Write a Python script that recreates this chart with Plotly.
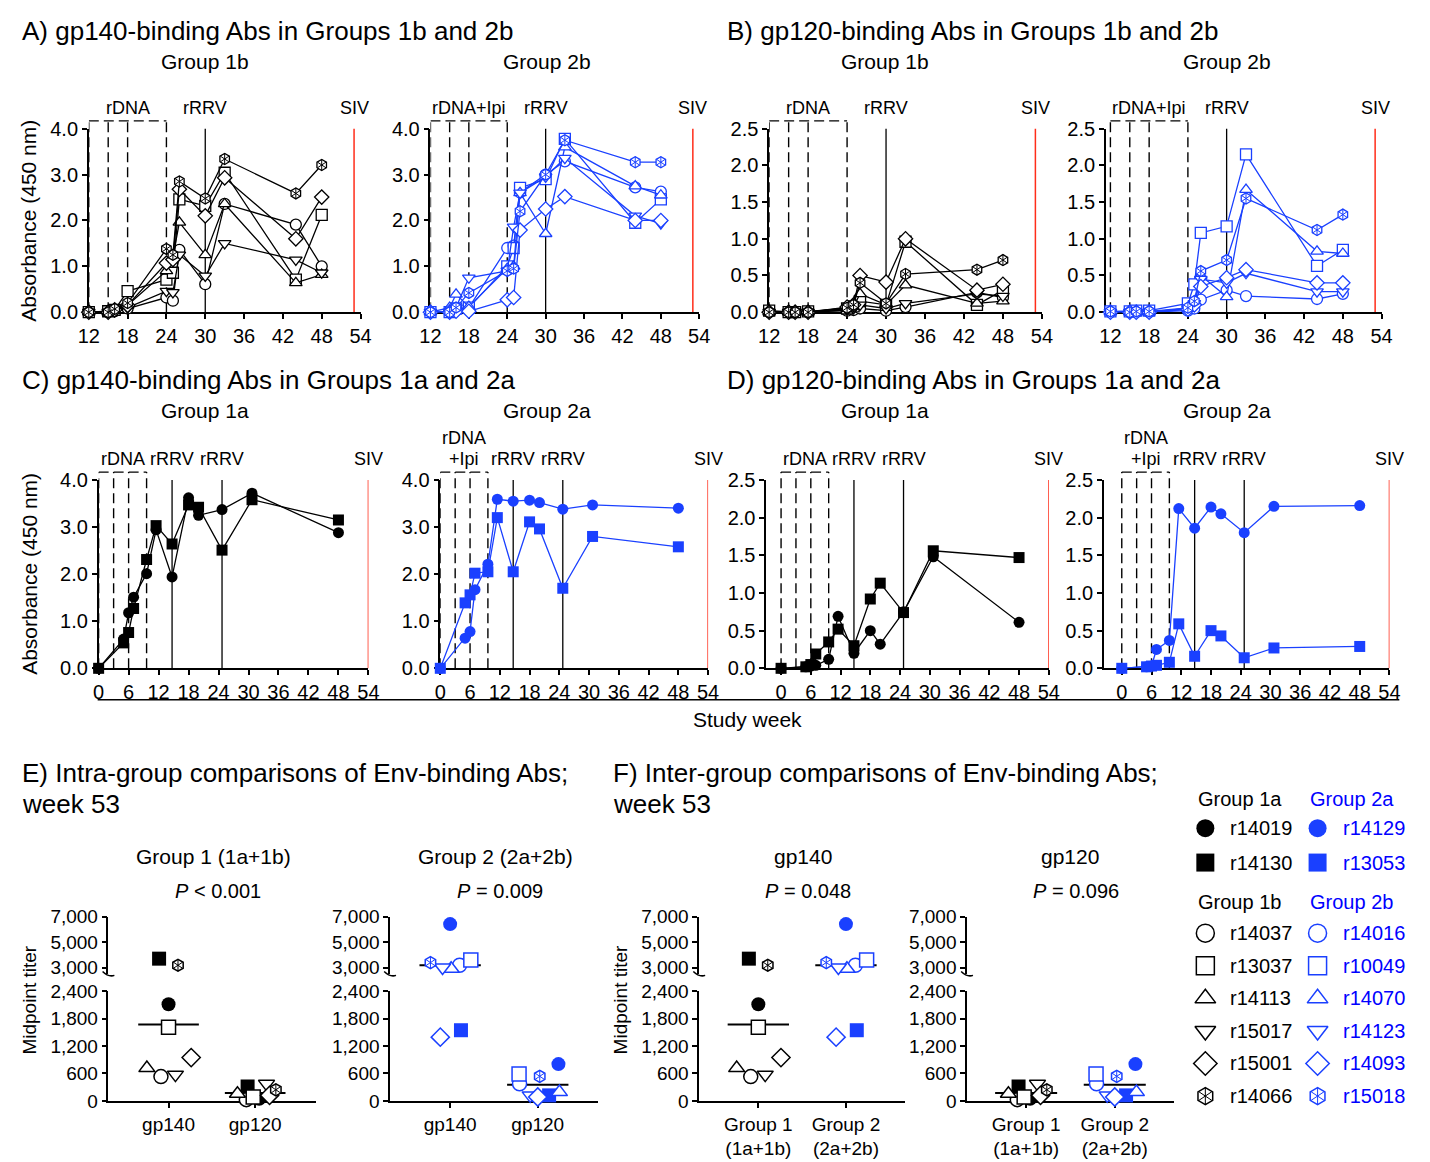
import numpy as np
import plotly.graph_objects as go

OFF = 0
PAGE_W, PAGE_H = 1430, 1162
W, H = PAGE_W - 2 * OFF, PAGE_H - 2 * OFF
FONT = "Liberation Sans, Arial, Helvetica, sans-serif"
BLUE = "#1a40ff"
BLUE_TXT = "#0000ff"
RED = "#ff2d1a"

# ---------------- data ----------------
WEEKS_B = [12, 15, 16, 18, 24, 25, 26, 30, 33, 44, 48]           # groups 1b / 2b
WEEKS_A = [0, 5, 6, 7, 9.6, 11.5, 14.7, 18, 20, 24.7, 30.7, 48]  # groups 1a / 2a
DNA_B = [12, 15, 18, 24]
RRV_B = [30]
SIV_B = 53
DNA_A = [0, 3, 6, 9.6]
RRV_A = [14.7, 24.7]
SIV_A = 54

GROUP_1A = ["r14019", "r14130"]
GROUP_2A = ["r14129", "r13053"]
GROUP_1B = ["r14037", "r13037", "r14113", "r15017", "r15001", "r14066"]
GROUP_2B = ["r14016", "r10049", "r14070", "r14123", "r14093", "r15018"]

GP140_1B = {
    "r14037": [0, 0, 0.02, 0.08, 0.32, 0.25, 1.36, 0.61, 2.36, 1.91, 1.0],
    "r13037": [0, 0.02, 0.05, 0.46, 0.71, 0.86, 2.46, 2.32, 3.04, 0.71, 2.12],
    "r14113": [0, 0, 0.03, 0.15, 0.9, 1.2, 1.96, 1.25, 2.36, 0.64, 0.82],
    "r15017": [0, 0, 0.02, 0.1, 0.46, 0.43, 1.25, 0.79, 1.5, 1.14, 0.86],
    "r15001": [0, 0, 0.05, 0.15, 1.07, 1.15, 2.68, 2.1, 2.93, 1.6, 2.51],
    "r14066": [0, 0, 0.07, 0.2, 1.38, 1.25, 2.85, 2.48, 3.34, 2.59, 3.21],
}
GP140_2B = {
    "r14016": [0, 0, 0.05, 0.1, 1.4, 1.45, 2.61, 3.0, 3.29, 2.72, 2.63],
    "r10049": [0, 0, 0.08, 0.1, 1.0, 1.4, 2.71, 2.9, 3.78, 1.95, 2.46],
    "r14070": [0, 0.1, 0.39, 0.12, 0.95, 1.0, 2.6, 1.71, 3.6, 2.75, 2.55],
    "r14123": [0, 0, 0.1, 0.75, 0.9, 1.86, 2.6, 2.95, 3.36, 2.1, 1.93],
    "r14093": [0, 0, 0.02, 0.02, 0.27, 0.32, 1.79, 2.25, 2.52, 2.0, 2.0],
    "r15018": [0, 0, 0.1, 0.42, 0.9, 0.95, 2.2, 3.0, 3.75, 3.27, 3.27],
}
GP120_1B = {
    "r14037": [0, 0, 0, 0, 0.02, 0.03, 0.05, 0.02, 0.07, 0.27, 0.2],
    "r13037": [0.02, 0, 0, 0.01, 0.05, 0.08, 0.15, 0.1, 0.96, 0.1, 0.3],
    "r14113": [0, 0, 0, 0, 0.05, 0.08, 0.25, 0.1, 0.37, 0.12, 0.15],
    "r15017": [0, 0, 0, 0, 0.03, 0.05, 0.1, 0.05, 0.12, 0.25, 0.22],
    "r15001": [0, 0, 0, 0, 0.07, 0.1, 0.5, 0.41, 1.0, 0.3, 0.38],
    "r14066": [0, 0, 0, 0, 0.06, 0.1, 0.4, 0.12, 0.52, 0.58, 0.71],
}
GP120_2B = {
    "r14016": [0, 0, 0, 0, 0.02, 0.05, 0.17, 0.3, 0.22, 0.18, 0.25],
    "r10049": [0.01, 0.01, 0.02, 0.02, 0.12, 0.38, 1.08, 1.17, 2.15, 0.63, 0.85],
    "r14070": [0, 0, 0, 0, 0.05, 0.15, 0.5, 0.21, 1.67, 0.83, 0.8],
    "r14123": [0, 0, 0, 0, 0.05, 0.12, 0.45, 0.4, 0.53, 0.28, 0.28],
    "r14093": [0, 0, 0, 0, 0.04, 0.1, 0.35, 0.47, 0.58, 0.4, 0.4],
    "r15018": [0.01, 0, 0.01, 0.01, 0.06, 0.15, 0.56, 0.71, 1.55, 1.12, 1.33],
}
GP140_1A = {
    "r14019": [0, 0.62, 1.18, 1.51, 2.01, 2.94, 1.94, 3.62, 3.25, 3.37, 3.72, 2.88],
    "r14130": [0, 0.54, 0.76, 1.27, 2.31, 3.03, 2.64, 3.47, 3.42, 2.51, 3.58, 3.15],
}
GP140_2A = {
    "r14129": [0, 0.64, 0.78, 1.67, 2.21, 3.59, 3.55, 3.57, 3.52, 3.38, 3.47, 3.4],
    "r13053": [0, 1.39, 1.56, 2.02, 2.05, 3.2, 2.05, 3.11, 2.96, 1.7, 2.8, 2.58],
}
GP120_1A = {
    "r14019": [0, 0.02, 0.03, 0.04, 0.12, 0.69, 0.2, 0.5, 0.32, 0.75, 1.48, 0.61],
    "r14130": [0, 0.02, 0.05, 0.19, 0.35, 0.52, 0.3, 0.92, 1.13, 0.74, 1.56, 1.47],
}
GP120_2A = {
    "r14129": [0, 0.02, 0.03, 0.25, 0.37, 2.12, 1.86, 2.14, 2.05, 1.8, 2.15, 2.16],
    "r13053": [0, 0.02, 0.03, 0.04, 0.08, 0.59, 0.16, 0.5, 0.43, 0.14, 0.27, 0.29],
}

# week-53 midpoint titers
TITER_GP140 = {
    "r14019": 2113, "r14130": 3697, "r14037": 532, "r13037": 1610, "r14113": 718,
    "r15017": 575, "r15001": 948, "r14066": 3180,
    "r14129": 6406, "r13053": 1545, "r14016": 3180, "r10049": 3594, "r14070": 2900,
    "r14123": 3000, "r14093": 1394, "r15018": 3387,
}
TITER_GP120 = {
    "r14019": 50, "r14130": 316, "r14037": 29, "r13037": 86, "r14113": 158,
    "r15017": 374, "r15001": 122, "r14066": 244,
    "r14129": 805, "r13053": 122, "r14016": 374, "r10049": 589, "r14070": 194,
    "r14123": 122, "r14093": 86, "r15018": 539,
}
P_VALUES = ["<i>P</i> &lt; 0.001", "<i>P</i> = 0.009", "<i>P</i> = 0.048", "<i>P</i> = 0.096"]

# ---------------- styles ----------------
SYMBOL = {}
for g in (GROUP_1A, GROUP_2A):
    SYMBOL.update(dict(zip(g, ["circle", "square"])))
for g in (GROUP_1B, GROUP_2B):
    SYMBOL.update(dict(zip(g, ["circle", "square", "triangle-up", "triangle-down", "diamond", "hexstar"])))
FILLED = set(GROUP_1A + GROUP_2A)
COLOR = {a: "black" for a in GROUP_1A + GROUP_1B}
COLOR.update({a: BLUE for a in GROUP_2A + GROUP_2B})

# horizontal jitter of the dots (pixels)
JITTER_GP140 = {"r14130": -9.6, "r14066": 9.6, "r14019": 0, "r13037": 0, "r15001": 23, "r14113": -22,
                "r14037": -7.7, "r15017": 7, "r14129": 0, "r15018": -20, "r14123": -7.7, "r14070": 1,
                "r14016": 9.6, "r10049": 21, "r14093": -10, "r13053": 11}
JITTER_GP120 = {"r14130": -7.7, "r15017": 11.5, "r14066": 21, "r14113": -18, "r14019": 4, "r14037": -9,
                "r13037": -2, "r15001": 14.6, "r14129": 21, "r10049": -19, "r15018": 2, "r14016": -18.5,
                "r14123": -7.7, "r14093": 0, "r13053": 11.5, "r14070": 22}
UPPER_MIN = 2600

AX_BASE = dict(showgrid=False, zeroline=False, showline=True, linecolor="black", linewidth=1.5,
               ticks="outside", ticklen=5, tickwidth=1.5, tickcolor="black",
               tickfont=dict(family=FONT, size=20, color="black"), fixedrange=True,
               layer="below traces")

fig = go.Figure()
layout_axes = {}
shapes = []
annotations = []
counter = {"x": 0, "y": 0}


def ref(kind, n):
    return kind if n == 1 else f"{kind}{n}"


def make_axis(kind, dom, rng, anchor, **kw):
    counter[kind] += 1
    n = counter[kind]
    name = f"{kind}axis" if n == 1 else f"{kind}axis{n}"
    d = dict(AX_BASE)
    d.update(domain=dom, range=rng, anchor=anchor, autorange=False)
    d.update(kw)
    layout_axes[name] = d
    return ref(kind, n)


def pair(xdom, ydom, xr, yr, xkw=None, ykw=None):
    xr_ = ref("x", counter["x"] + 1)
    yr_ = ref("y", counter["y"] + 1)
    make_axis("x", xdom, xr, yr_, **(xkw or {}))
    make_axis("y", ydom, yr, xr_, **(ykw or {}))
    return xr_, yr_


def pxx(a):
    return (a - OFF) / W


def pxy(b):
    return 1 - (b - OFF) / H


def xdom_px(a, b):
    return [pxx(a), pxx(b)]


def ydom_px(top, bottom):
    return [pxy(bottom), pxy(top)]


def text(t, x, y, size, color="black", xanchor="center", angle=0, xref="paper"):
    annotations.append(dict(text=t, x=(pxx(x) if xref == "paper" else x), y=pxy(y), xref=xref,
                            yref="paper", showarrow=False, xanchor=xanchor, yanchor="middle",
                            textangle=angle, font=dict(family=FONT, size=size, color=color)))


def add_marks(xa, ya, xs, ys, animal, size, mode="markers", lw=1.3):
    color = COLOR[animal]
    sym = SYMBOL[animal]
    filled = animal in FILLED
    base = "hexagon" if sym == "hexstar" else sym
    fig.add_trace(go.Scatter(
        x=xs, y=ys, xaxis=xa, yaxis=ya, mode=mode, cliponaxis=False, hoverinfo="skip",
        line=dict(color=color, width=1.3),
        marker=dict(symbol=base, size=size, color=color if filled else "white",
                    line=dict(color=color, width=0 if filled else lw))))
    if sym == "hexstar":
        n = len(xs)
        fig.add_trace(go.Scatter(
            x=list(xs) * 2, y=list(ys) * 2, xaxis=xa, yaxis=ya, mode="markers", cliponaxis=False,
            hoverinfo="skip",
            marker=dict(symbol=["y-up-open"] * n + ["y-down-open"] * n, size=size / 1.55,
                        color=color, line=dict(width=1.0))))


def course_panel(xd, yd, xr, ymax, ystep, weeks, data, dna, rrv, siv, dna_label):
    xtv = list(range(12 if xr[0] > 6 else 0, 55, 6))
    ytv = [round(v, 2) for v in np.arange(0, ymax + 1e-9, ystep)]
    xa, ya = pair(xdom_px(*xd), ydom_px(*yd), xr, [0, ymax],
                  dict(tickvals=xtv), dict(tickvals=ytv, tickformat=".1f"))
    hpx = yd[1] - yd[0]
    top = 1 + 8 / hpx
    yref = f"{ya} domain"
    dash = "10px,5px"
    for w in dna:
        shapes.append(dict(type="line", xref=xa, yref=yref, x0=w, x1=w, y0=0, y1=top,
                           line=dict(color="black", width=1.4, dash=dash), layer="below"))
    shapes.append(dict(type="line", xref=xa, yref=yref, x0=dna[0], x1=dna[-1], y0=top, y1=top,
                       line=dict(color="black", width=1.4, dash=dash), layer="below"))
    for w in rrv:
        shapes.append(dict(type="line", xref=xa, yref=yref, x0=w, x1=w, y0=0, y1=1,
                           line=dict(color="black", width=1.3), layer="below"))
        text("rRRV", w, yd[0] - 21, 18, xref=xa)
    shapes.append(dict(type="line", xref=xa, yref=yref, x0=siv, x1=siv, y0=0, y1=1,
                       line=dict(color=RED, width=1.5), layer="below"))
    text("SIV", siv, yd[0] - 21, 18, xref=xa)
    mid = (dna[0] + dna[-1]) / 2
    if len(dna_label) == 1:
        text(dna_label[0], mid, yd[0] - 21, 18, xref=xa)
    else:
        text(dna_label[0], mid, yd[0] - 43, 18, xref=xa)
        text(dna_label[1], mid, yd[0] - 21, 18, xref=xa)
    for animal, vals in data.items():
        add_marks(xa, ya, weeks, vals, animal, 11, mode="lines+markers")


# ---- panels A-D ----
YA = (120, 307)
YC = (478, 670)
course_panel((79, 355), YA, [12, 54], 4, 1, WEEKS_B, GP140_1B, DNA_B, RRV_B, SIV_B, ["rDNA"])
course_panel((426, 699), YA, [12, 54], 4, 1, WEEKS_B, GP140_2B, DNA_B, RRV_B, SIV_B, ["rDNA+Ipi"])
course_panel((770, 1047), YA, [12, 54], 2.5, 0.5, WEEKS_B, GP120_1B, DNA_B, RRV_B, SIV_B, ["rDNA"])
course_panel((1112, 1392), YA, [11.3, 54], 2.5, 0.5, WEEKS_B, GP120_2B, DNA_B, RRV_B, SIV_B, ["rDNA+Ipi"])
course_panel((89, 363), YC, [0, 54], 4, 1, WEEKS_A, GP140_1A, DNA_A, RRV_A, SIV_A, ["rDNA"])
course_panel((436, 708), YC, [0, 54], 4, 1, WEEKS_A, GP140_2A, DNA_A, RRV_A, SIV_A, ["rDNA", "+Ipi"])
course_panel((767, 1054), YC, [-3, 54], 2.5, 0.5, WEEKS_A, GP120_1A, DNA_A, RRV_A, SIV_A, ["rDNA"])
course_panel((1110, 1400), YC, [-3.6, 54], 2.5, 0.5, WEEKS_A, GP120_2A, DNA_A, RRV_A, SIV_A, ["rDNA", "+Ipi"])

# headings
text("A) gp140-binding Abs in Groups 1b and 2b", 9, 20, 26, xanchor="left")
text("B) gp120-binding Abs in Groups 1b and 2b", 725, 20, 26, xanchor="left")
text("C) gp140-binding Abs in Groups 1a and 2a", 9, 376, 26, xanchor="left")
text("D) gp120-binding Abs in Groups 1a and 2a", 725, 376, 26, xanchor="left")
for t, x, y in [("Group 1b", 197, 51), ("Group 2b", 544, 51), ("Group 1b", 888, 51), ("Group 2b", 1235, 51),
                ("Group 1a", 197, 407), ("Group 2a", 544, 407), ("Group 1a", 888, 407), ("Group 2a", 1235, 407)]:
    text(t, x, y, 21)
text("Absorbance (450 nm)", 18, 214, 21, angle=-90)
text("Absorbance (450 nm)", 18, 574, 21, angle=-90)
shapes.append(dict(type="line", xref="paper", yref="paper", x0=pxx(88), x1=pxx(1410),
                   y0=pxy(702), y1=pxy(702), line=dict(color="black", width=1.5)))
text("Study week", 748, 722, 21)

# ---- panels E and F ----
Y_LOW = (999, 1111)
Y_UP = (923, 982)


def dot_panel(xd, cat_px, ticktext, cats):
    unit = cat_px[1] - cat_px[0]
    xr = [(xd[0] - cat_px[0]) / unit, (xd[1] - cat_px[0]) / unit]
    xa, yl = pair(xdom_px(*xd), ydom_px(*Y_LOW), xr, [0, 2400],
                  dict(tickvals=[0, 1], ticktext=ticktext, tickfont=dict(family=FONT, size=19, color="black")),
                  dict(tickvals=[0, 600, 1200, 1800, 2400], tickformat=",",
                       tickfont=dict(family=FONT, size=19, color="black")))
    up_lo = 3000 - (Y_UP[1] - 975) / 52 * 4000
    yu = make_axis("y", ydom_px(*Y_UP), [up_lo, 7000], xa, tickvals=[3000, 5000, 7000], tickformat=",",
                   tickfont=dict(family=FONT, size=19, color="black"))
    # empty traces so that both axis segments are always drawn
    for ya in (yl, yu):
        fig.add_trace(go.Scatter(x=[None], y=[None], xaxis=xa, yaxis=ya, mode="markers",
                                 hoverinfo="skip", showlegend=False))
    # axis break hook
    x0 = xd[0]
    shapes.append(dict(type="path", xref="paper", yref="paper",
                       path=f"M {pxx(x0 - 6)} {pxy(Y_UP[1] - 3)} Q {pxx(x0)} {pxy(Y_UP[1] + 3)} {pxx(x0 + 6)} {pxy(Y_UP[1] + 1)}",
                       line=dict(color="black", width=1.5)))
    for i, (animals, titers, jitter) in enumerate(cats):
        vals = [titers[a] for a in animals]
        m = float(np.mean(vals))
        fig.add_trace(go.Scatter(x=[i - 0.35, i + 0.35], y=[m, m], xaxis=xa,
                                 yaxis=(yu if m >= UPPER_MIN else yl), mode="lines",
                                 line=dict(color="black", width=2), hoverinfo="skip", cliponaxis=False))
        for a in animals:
            v = titers[a]
            add_marks(xa, yu if v >= UPPER_MIN else yl, [i + jitter[a] / unit], [v], a,
                      12 if SYMBOL[a] == "hexstar" else 14, lw=1.5)


G1 = GROUP_1A + GROUP_1B
G2 = GROUP_2A + GROUP_2B
dot_panel((99, 310), (160, 248), ["gp140", "gp120"],
          [(G1, TITER_GP140, JITTER_GP140), (G1, TITER_GP120, JITTER_GP120)])
dot_panel((385, 596), (446, 535), ["gp140", "gp120"],
          [(G2, TITER_GP140, JITTER_GP140), (G2, TITER_GP120, JITTER_GP120)])
dot_panel((699, 908), (759, 848), ["Group 1<br>(1a+1b)", "Group 2<br>(2a+2b)"],
          [(G1, TITER_GP140, JITTER_GP140), (G2, TITER_GP140, JITTER_GP140)])
dot_panel((971, 1181), (1031, 1121), ["Group 1<br>(1a+1b)", "Group 2<br>(2a+2b)"],
          [(G1, TITER_GP120, JITTER_GP120), (G2, TITER_GP120, JITTER_GP120)])

text("E) Intra-group comparisons of Env-binding Abs;", 9, 777, 26, xanchor="left")
text("week 53", 9, 808, 26, xanchor="left")
text("F) Inter-group comparisons of Env-binding Abs;", 609, 777, 26, xanchor="left")
text("week 53", 609, 808, 26, xanchor="left")
for t, x in [("Group 1 (1a+1b)", 206), ("Group 2 (2a+2b)", 492), ("gp140", 804), ("gp120", 1076)]:
    text(t, x, 862, 21)
for t, x in zip(P_VALUES, [210, 497, 809, 1082]):
    text(t, x, 897, 20)
text("Midpoint titer", 19, 1008, 19, angle=-90)
text("Midpoint titer", 619, 1008, 19, angle=-90)

# ---- legend (drawn on a hidden full-page axis, in page pixels) ----
lx, ly = pair([0, 1], [0, 1], [OFF, OFF + W], [OFF + H, OFF], dict(visible=False), dict(visible=False))
LEG_X_BLACK, LEG_X_BLUE = 1213, 1327
legend_blocks = [("Group 1a", "Group 2a", GROUP_1A, GROUP_2A, 803, 833, 35),
                 ("Group 1b", "Group 2b", GROUP_1B, GROUP_2B, 908, 940, 33.2)]
for h1, h2, ga, gb, hy, y0, dy in legend_blocks:
    text(h1, 1204, hy, 20, xanchor="left")
    text(h2, 1317, hy, 20, color=BLUE_TXT, xanchor="left")
    for i, (a, b) in enumerate(zip(ga, gb)):
        y = y0 + i * dy
        add_marks(lx, ly, [LEG_X_BLACK], [y], a, 18 if SYMBOL[a] != "hexstar" else 17, lw=1.5)
        add_marks(lx, ly, [LEG_X_BLUE], [y], b, 18 if SYMBOL[b] != "hexstar" else 17, lw=1.5)
        text(a, 1236, y, 20, xanchor="left")
        text(b, 1351, y, 20, color=BLUE_TXT, xanchor="left")

fig.update_layout(width=W, height=H, margin=dict(l=0, r=0, t=0, b=0), paper_bgcolor="white",
                  plot_bgcolor="rgba(0,0,0,0)", showlegend=False,
                  font=dict(family=FONT, color="black"), shapes=shapes, annotations=annotations,
                  **layout_axes)
fig.write_html("out.html")
